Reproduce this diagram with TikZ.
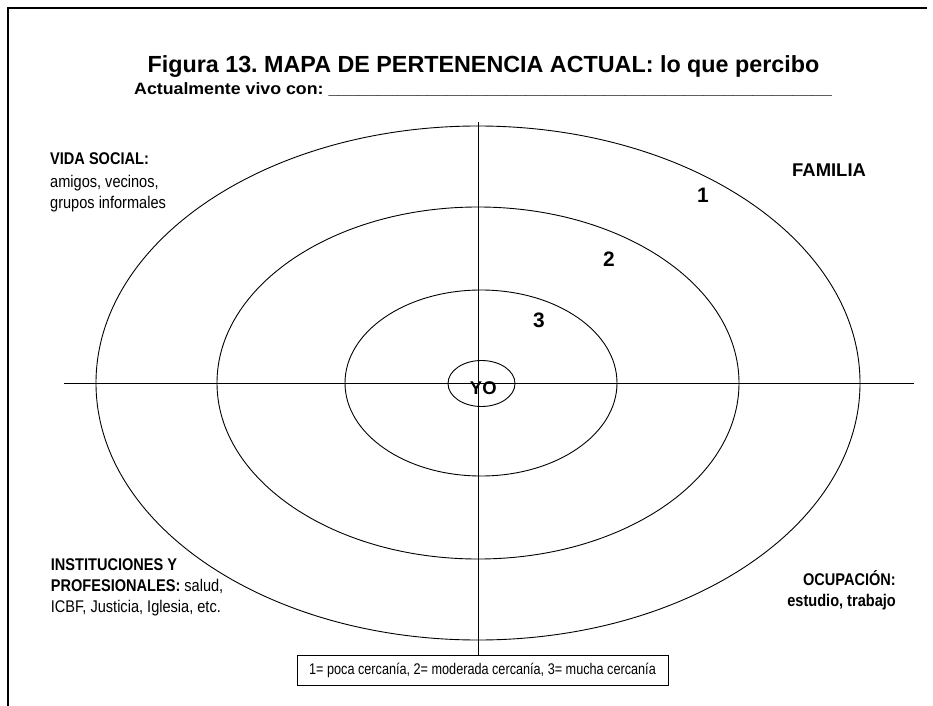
\documentclass[tikz,border=0pt]{standalone}
\usepackage{fontspec}
\setmainfont{Liberation Sans}
\newfontfamily\narrowf[FakeStretch=0.86]{Liberation Sans}
\newfontfamily\legendf[FakeStretch=0.82]{Liberation Sans}
\newfontfamily\widef[FakeStretch=1.08]{Liberation Sans}
\newcommand{\blanks}{\_\_\_\_\_\_\_\_\_\_\_\_\_\_\_\_\_\_\_\_\_\_\_\_\_\_\_\_\_\_\_\_\_\_\_\_\_\_\_\_\_\_\_\_\_\_\_\_\_\_\_}
\frenchspacing
\begin{document}
\begin{tikzpicture}[x=1bp,y=-1bp,
  ring/.style={draw=black, line width=0.9pt},
  axis/.style={draw=black, line width=1pt},
  lbl/.style={inner sep=0pt, text=black, font=\narrowf\bfseries\fontsize{17}{21}\selectfont},
  lblr/.style={inner sep=0pt, text=black, font=\narrowf\fontsize{17}{21}\selectfont},
  num/.style={inner sep=0pt, text=black, font=\bfseries\fontsize{21}{24}\selectfont, anchor=base},
  legendbox/.style={draw=black, line width=0.9pt, inner sep=0pt, minimum width=371bp, minimum height=30bp, font=\legendf\fontsize{15.5}{18}\selectfont}
]
\fill[white] (0,0) rectangle (933,706);
\useasboundingbox (0,0) rectangle (933,706);
% frame
\draw[line width=2.4pt] (8,706) -- (8,8) -- (927,8);

% title
\node[inner sep=0pt, anchor=base, font=\bfseries\fontsize{23.4}{28}\selectfont] (title) at (483.5,73) {Figura 13. MAPA DE PERTENENCIA ACTUAL: lo que percibo};
\node[inner sep=0pt, anchor=base west, font=\widef\bfseries\fontsize{16.5}{19}\selectfont] (vivo) at (134,94.5) {Actualmente vivo con: \blanks};

% rings
\draw[ring] (478,383) ellipse [x radius=382bp, y radius=257bp];
\draw[ring] (478,383) ellipse [x radius=261bp, y radius=176bp];
\draw[ring] (481,383) ellipse [x radius=136bp, y radius=93bp];
\draw[ring] (481.5,383.5) ellipse [x radius=33.5bp, y radius=23bp];

% legend
\node[legendbox] (legend) at (482.5,670) {1= poca cercanía, 2= moderada cercanía, 3= mucha cercanía};

% axes
\coordinate (vtop) at (478,122);
\coordinate (hl) at (64,383);
\coordinate (hr) at (914,383);
\draw[axis] (hl) -- (hr);
\draw[axis] (vtop) -- (vtop |- legend.north);

% center label
\node[inner sep=0pt, anchor=base, font=\bfseries\fontsize{18.5}{20}\selectfont] (yo) at (483.3,394.3) {YO};

% numbers
\node[num] (n1) at (703,202.5) {1};
\node[num] (n2) at (609,266) {2};
\node[num] (n3) at (539,327) {3};

% FAMILIA
\node[inner sep=0pt, anchor=base west, font=\bfseries\fontsize{18.5}{22}\selectfont] (familia) at (792,177) {FAMILIA};

% VIDA SOCIAL
\node[lbl, anchor=base west] (vs1) at (50,165) {VIDA SOCIAL:};
\node[lblr, anchor=base west] (vs2) at (50,187) {amigos, vecinos,};
\node[lblr, anchor=base west] (vs3) at (50,208) {grupos informales};

% INSTITUCIONES
\node[lbl, anchor=base west] (in1) at (50.7,570) {INSTITUCIONES Y};
\node[lbl, anchor=base west] (in2) at (50.7,591) {PROFESIONALES:{\mdseries\ salud,}};
\node[lblr, anchor=base west] (in3) at (50.7,612) {ICBF, Justicia, Iglesia, etc.};

% OCUPACION
\node[lbl, anchor=base east] (oc1) at (896,585) {OCUPACIÓN:};
\node[lbl, anchor=base east] (oc2) at (896,606) {estudio, trabajo};
\end{tikzpicture}
\end{document}
